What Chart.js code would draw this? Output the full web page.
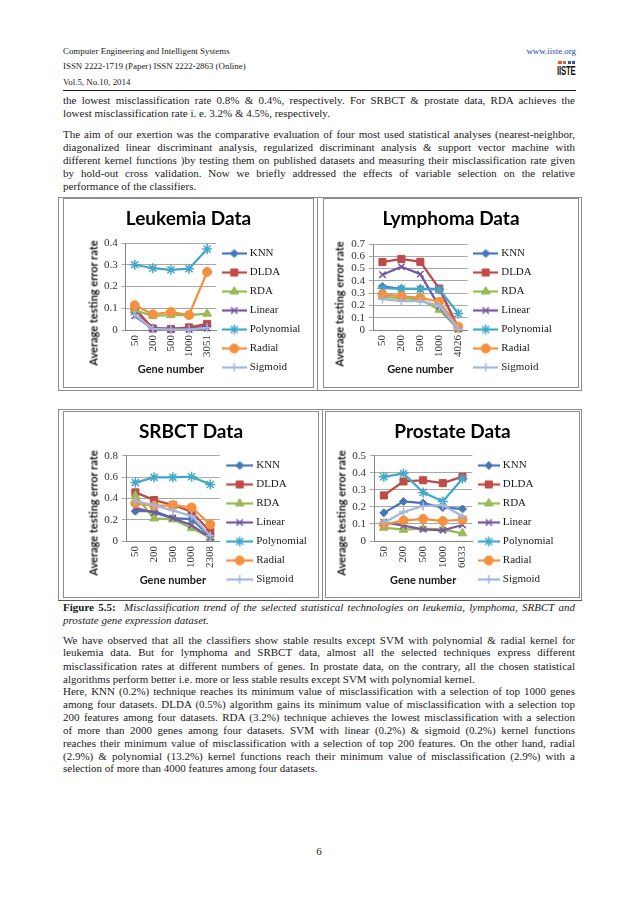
<!DOCTYPE html>
<html>
<head>
<meta charset="utf-8">
<title>Figure 5.5</title>
<script src="https://cdn.jsdelivr.net/npm/chart.js@4.4.1/dist/chart.umd.min.js"></script>
<style>
  html, body { margin:0; padding:0; background:#fff; }
  body { position:relative; width:638px; height:903px; overflow:hidden; font-family:"Liberation Serif","Times New Roman",serif; color:#1a1a1a; }
  .hd { position:absolute; left:63px; font-size:8.9px; line-height:10px; white-space:nowrap; }
  .ln { position:absolute; left:63px; width:512px; font-size:11px; line-height:13px; white-space:nowrap; }
  .box { position:absolute; border:1px solid #8e8e8e; background:#fff; }
  .box canvas { position:absolute; left:0; top:0; }
  .rule { position:absolute; background:#8c8c8c; }
  .ytitle { position:absolute; font-family:Lato, sans-serif; font-weight:bold; font-size:11px; line-height:13px; white-space:nowrap; color:#1a1a1a; transform:translate(-50%,-50%) rotate(-90deg); }
  a { color:#1d3fae; }
</style>
</head>
<body>
<div class="hd" style="top:45.7px">Computer Engineering and Intelligent Systems</div>
<div class="hd" style="top:60.5px">ISSN 2222-1719 (Paper) ISSN 2222-2863 (Online)</div>
<div class="hd" style="top:77px">Vol.5, No.10, 2014</div>
<div class="hd" style="left:auto;right:62px;top:45.7px"><a>www.iiste.org</a></div>
<div style="position:absolute;left:558px;top:61px;width:18px;height:3px;">
  <div style="position:absolute;left:0;top:0;width:4px;height:3px;background:#d9632a"></div>
  <div style="position:absolute;left:5px;top:0;width:3px;height:3px;background:#d9632a"></div>
  <div style="position:absolute;left:10px;top:0;width:3px;height:3px;background:#2d5aa0"></div>
  <div style="position:absolute;left:14px;top:0;width:3px;height:3px;background:#2d5aa0"></div>
</div>
<div style="position:absolute;left:557px;top:64px;font-family:'Liberation Sans',sans-serif;font-weight:bold;font-size:13px;line-height:13px;transform:scaleX(0.6);transform-origin:left top;letter-spacing:-0.3px;color:#111">IISTE</div>
<div class="rule" style="left:63px;top:90px;width:513px;height:1.3px;background:#222"></div>

<div class="ln j" style="top:93.5px">the lowest misclassification rate 0.8% &amp; 0.4%, respectively. For SRBCT &amp; prostate data, RDA achieves the</div>
<div class="ln" style="top:106.8px">lowest misclassification rate i. e. 3.2% &amp; 4.5%, respectively.</div>

<div class="ln j" style="top:127.8px">The aim of our exertion was the comparative evaluation of four most used statistical analyses (nearest-neighbor,</div>
<div class="ln j" style="top:141.2px">diagonalized linear discriminant analysis, regularized discriminant analysis &amp; support vector machine with</div>
<div class="ln j" style="top:154.2px">different kernel functions )by testing them on published datasets and measuring their misclassification rate given</div>
<div class="ln j" style="top:166.8px">by hold-out cross validation. Now we briefly addressed the effects of variable selection on the relative</div>
<div class="ln" style="top:180.2px">performance of the classifiers.</div>

<!-- figure table frames -->
<div class="rule" style="left:58px;top:197px;width:524px;height:1px"></div>
<div class="rule" style="left:58px;top:390px;width:524px;height:1px"></div>
<div class="rule" style="left:58px;top:197px;width:1px;height:194px"></div>
<div class="rule" style="left:581px;top:197px;width:1px;height:194px"></div>
<div class="rule" style="left:317px;top:197px;width:1px;height:194px"></div>
<div class="rule" style="left:58px;top:409px;width:524px;height:1px"></div>
<div class="rule" style="left:58px;top:599.5px;width:524px;height:1.3px;background:#555"></div>
<div class="rule" style="left:58px;top:409px;width:1px;height:191px"></div>
<div class="rule" style="left:581px;top:409px;width:1px;height:191px"></div>
<div class="rule" style="left:322px;top:409px;width:1px;height:191px"></div>

<div class="ln j" style="top:600.8px"><b>Figure 5.5:</b>&nbsp; <i>Misclassification trend of the selected statistical technologies on leukemia, lymphoma, SRBCT and</i></div>
<div class="ln" style="top:614.2px"><i>prostate gene expression dataset.</i></div>

<div class="ln j" style="top:633.5px">We have observed that all the classifiers show stable results except SVM with polynomial &amp; radial kernel for</div>
<div class="ln j" style="top:646.2px">leukemia data. But for lymphoma and SRBCT data, almost all the selected techniques express different</div>
<div class="ln j" style="top:659.5px">misclassification rates at different numbers of genes. In prostate data, on the contrary, all the chosen statistical</div>
<div class="ln" style="top:672.5px">algorithms perform better i.e. more or less stable results except SVM with polynomial kernel.</div>
<div class="ln j" style="top:684.5px">Here, KNN (0.2%) technique reaches its minimum value of misclassification with a selection of top 1000 genes</div>
<div class="ln j" style="top:697.5px">among four datasets. DLDA (0.5%) algorithm gains its minimum value of misclassification with a selection top</div>
<div class="ln j" style="top:710.8px">200 features among four datasets. RDA (3.2%) technique achieves the lowest misclassification with a selection</div>
<div class="ln j" style="top:723.5px">of more than 2000 genes among four datasets. SVM with linear (0.2%) &amp; sigmoid (0.2%) kernel functions</div>
<div class="ln j" style="top:736.8px">reaches their minimum value of misclassification with a selection of top 200 features. On the other hand, radial</div>
<div class="ln j" style="top:749.5px">(2.9%) &amp; polynomial (13.2%) kernel functions reach their minimum value of misclassification (2.9%) with a</div>
<div class="ln" style="top:762.2px">selection of more than 4000 features among four datasets.</div>

<div class="ln" style="top:844.5px;text-align:center;">6</div>

<script>
// ---------------- DATA ----------------
const seriesNames = ['KNN', 'DLDA', 'RDA', 'Linear', 'Polynomial', 'Radial', 'Sigmoid'];

// Leukemia
const leukemiaGenes      = ['50', '200', '500', '1000', '3051'];
const leukemiaKNN        = [0.090, 0.010, 0.005, 0.010, 0.020];
const leukemiaDLDA       = [0.100, 0.007, 0.005, 0.012, 0.028];
const leukemiaRDA        = [0.090, 0.065, 0.068, 0.068, 0.075];
const leukemiaLinear     = [0.065, 0.004, 0.002, 0.002, 0.008];
const leukemiaPolynomial = [0.300, 0.284, 0.277, 0.282, 0.372];
const leukemiaRadial     = [0.114, 0.072, 0.083, 0.069, 0.267];
const leukemiaSigmoid    = [0.070, 0.005, 0.002, 0.002, 0.010];
const leukemiaYTicks     = [0, 0.1, 0.2, 0.3, 0.4];

// Lymphoma
const lymphomaGenes      = ['50', '200', '500', '1000', '4026'];
const lymphomaKNN        = [0.355, 0.335, 0.335, 0.335, 0.010];
const lymphomaDLDA       = [0.553, 0.578, 0.555, 0.337, 0.020];
const lymphomaRDA        = [0.270, 0.260, 0.250, 0.165, 0.010];
const lymphomaLinear     = [0.450, 0.515, 0.455, 0.190, 0.005];
const lymphomaPolynomial = [0.340, 0.335, 0.333, 0.330, 0.135];
const lymphomaRadial     = [0.290, 0.275, 0.262, 0.230, 0.027];
const lymphomaSigmoid    = [0.252, 0.235, 0.235, 0.200, 0.010];
const lymphomaYTicks     = [0, 0.1, 0.2, 0.3, 0.4, 0.5, 0.6, 0.7];

// SRBCT
const srbctGenes      = ['50', '200', '500', '1000', '2308'];
const srbctKNN        = [0.280, 0.280, 0.215, 0.205, 0.042];
const srbctDLDA       = [0.456, 0.384, 0.338, 0.275, 0.086];
const srbctRDA        = [0.425, 0.212, 0.203, 0.120, 0.032];
const srbctLinear     = [0.310, 0.265, 0.215, 0.148, 0.030];
const srbctPolynomial = [0.548, 0.597, 0.597, 0.603, 0.530];
const srbctRadial     = [0.355, 0.330, 0.335, 0.315, 0.155];
const srbctSigmoid    = [0.375, 0.335, 0.285, 0.235, 0.050];
const srbctYTicks     = [0, 0.2, 0.4, 0.6, 0.8];

// Prostate
const prostateGenes      = ['50', '200', '500', '1000', '6033'];
const prostateKNN        = [0.165, 0.232, 0.222, 0.196, 0.188];
const prostateDLDA       = [0.267, 0.349, 0.356, 0.339, 0.377];
const prostateRDA        = [0.078, 0.066, 0.072, 0.068, 0.045];
const prostateLinear     = [0.110, 0.090, 0.068, 0.063, 0.094];
const prostatePolynomial = [0.376, 0.396, 0.285, 0.232, 0.365];
const prostateRadial     = [0.098, 0.120, 0.130, 0.117, 0.125];
const prostateSigmoid    = [0.107, 0.170, 0.205, 0.210, 0.145];
const prostateYTicks     = [0, 0.1, 0.2, 0.3, 0.4, 0.5];

// ---------------- STYLE ----------------
const COLORS = ['#4676B4', '#BE4B48', '#98B954', '#7459A0', '#43A8C6', '#F4913F', '#A3B6DE'];
const MARK = [
  {style: 'rectRot',  r: 4,   bw: 1},
  {style: 'rect',     r: 5,   bw: 1},
  {style: 'triangle', r: 5,   bw: 1},
  {style: 'crossRot', r: 4.5, bw: 1.5},
  {style: 'star',     r: 5,   bw: 1.5},
  {style: 'circle',   r: 4.5, bw: 1},
  {style: 'cross',    r: 4.5, bw: 1.5}
];
const TITLE_FONT = {family: 'Lato', size: 19, weight: 'bold', lineHeight: 1.2};
const AX_FONT    = {family: 'Lato', size: 11, weight: 'bold', lineHeight: 1.2};
const TICK_FONT  = {family: 'Liberation Serif', size: 11, lineHeight: 1.2};
const LEG_FONT   = {family: 'Liberation Serif', size: 11, lineHeight: 1.2};
const GRID_C = '#a8a8a8', AXIS_C = '#868686', TICK_C = '#333333', TEXT_C = '#1a1a1a';

// justify single lines to the text block width
document.querySelectorAll('.j').forEach(el => {
  const s = document.createElement('span');
  while (el.firstChild) s.appendChild(el.firstChild);
  el.appendChild(s);
  const w = s.getBoundingClientRect().width;
  const n = (el.textContent.match(/[ \u00a0]/g) || []).length;
  if (n) el.style.wordSpacing = ((512 - w) / n) + 'px';
});

function makeIcon(i, Wi) {
  const c = document.createElement('canvas');
  c.width = Wi; c.height = 12;
  const g = c.getContext('2d');
  const L = Math.min(27, Wi);
  g.strokeStyle = COLORS[i]; g.lineWidth = 2.25;
  g.beginPath(); g.moveTo(Wi - L, 6); g.lineTo(Wi, 6); g.stroke();
  g.fillStyle = COLORS[i]; g.strokeStyle = COLORS[i]; g.lineWidth = MARK[i].bw;
  if (Chart.helpers && Chart.helpers.drawPoint) {
    Chart.helpers.drawPoint(g, {pointStyle: MARK[i].style, radius: MARK[i].r, rotation: 0, borderWidth: MARK[i].bw}, Wi - L / 2, 6);
  }
  return c;
}

// let the right-hand legend and the title use the whole canvas width when drawing
function widenBoxes(chart) {
  const W = chart.width;
  if (chart.legend) { chart.legend.right = W; chart.legend.width = W - chart.legend.left; }
  if (chart.titleBlock) { chart.titleBlock.left = 0; chart.titleBlock.right = W; chart.titleBlock.width = W; }
}
const boxRoom = { id: 'boxRoom', afterLayout: widenBoxes, beforeDraw: widenBoxes };

function build(spec) {
  const {box, plot} = spec;
  const cx = box.x + 1, cy = box.y + 1, W = box.w - 2, H = box.h - 2;
  const wrap = document.createElement('div');
  wrap.className = 'box';
  wrap.style.cssText = `left:${box.x}px;top:${box.y}px;width:${W}px;height:${H}px;`;
  const cv = document.createElement('canvas');
  cv.width = W; cv.height = H;
  cv.style.width = W + 'px'; cv.style.height = H + 'px';
  wrap.appendChild(cv);
  document.body.appendChild(wrap);

  const yt = document.createElement('div');
  yt.className = 'ytitle';
  yt.textContent = 'Average testing error rate';
  yt.style.left = spec.yTitleX + 'px';
  yt.style.top = spec.yTitleCY + 'px';
  document.body.appendChild(yt);

  const titleLH = TITLE_FONT.size * TITLE_FONT.lineHeight;
  const axLH = AX_FONT.size * AX_FONT.lineHeight;
  const tTop = (spec.titleY - cy) - titleLH / 2;
  const tBot = (plot.t - cy) - tTop - titleLH;
  const FS = LEG_FONT.size, SP = 19, LP = SP - FS;
  const pb = Math.round(H - SP + FS / 2 - (spec.legendLastY - cy));
  const Hx = H - pb - (plot.b - cy);
  const xtpb = (H - pb) - (spec.xTitleY - cy) - axLH / 2;
  const Wy = plot.l - cx;
  const LW = 30;
  const padRight = W - LW - (plot.r - cx);
  const Wi = Math.round(spec.legendTextX - plot.r - LP - FS / 2 - 3);
  const bw = Wi - 5;
  const icons = seriesNames.map((n, i) => makeIcon(i, Wi));

  const ticks = spec.yTicks;
  new Chart(cv, {
    type: 'line',
    data: {
      labels: spec.genes,
      datasets: seriesNames.map((n, i) => ({
        label: n,
        data: spec.series[i],
        borderColor: COLORS[i],
        backgroundColor: COLORS[i],
        borderWidth: 2.25,
        pointStyle: MARK[i].style,
        pointRadius: MARK[i].r,
        pointBorderWidth: MARK[i].bw,
        pointBackgroundColor: COLORS[i],
        pointBorderColor: COLORS[i],
        tension: 0,
        fill: false,
        clip: false,
        order: seriesNames.length - 1 - i
      }))
    },
    plugins: [boxRoom],
    options: {
      responsive: false,
      animation: false,
      devicePixelRatio: 1,
      layout: {padding: {left: 0, top: 0, right: padRight, bottom: pb}},
      scales: {
        x: {
          type: 'category',
          offset: true,
          grid: {display: false, drawTicks: false, tickLength: 0},
          border: {display: true, color: AXIS_C, width: 1},
          ticks: {minRotation: 90, maxRotation: 90, autoSkip: false, padding: 5, color: TICK_C, font: TICK_FONT},
          title: {display: true, text: 'Gene number', color: TEXT_C, font: AX_FONT, padding: {top: 0, bottom: xtpb}},
          afterFit(s) { s.height = Hx; }
        },
        y: {
          min: ticks[0],
          max: ticks[ticks.length - 1],
          ticks: {stepSize: ticks[1] - ticks[0], autoSkip: false, padding: 4, color: TICK_C, font: TICK_FONT},
          grid: {color: GRID_C, lineWidth: 1, drawTicks: true, tickLength: 4},
          border: {display: true, color: AXIS_C, width: 1},
          title: {display: false},
          afterFit(s) { s.width = Wy; }
        }
      },
      plugins: {
        title: {display: true, text: spec.title, color: '#000', font: TITLE_FONT, padding: {top: tTop, bottom: tBot}},
        legend: {
          position: 'right',
          align: 'end',
          maxWidth: LW,
          labels: {
            usePointStyle: true,
            pointStyleWidth: bw,
            boxHeight: FS,
            padding: LP,
            color: TEXT_C,
            font: LEG_FONT,
            sort: (a, b) => a.datasetIndex - b.datasetIndex,
            generateLabels(chart) {
              const items = Chart.defaults.plugins.legend.labels.generateLabels(chart);
              items.forEach(it => { it.pointStyle = icons[it.datasetIndex]; });
              return items;
            }
          }
        },
        tooltip: {enabled: false}
      }
    }
  });
}

const charts = [
  {title: 'Leukemia Data', genes: leukemiaGenes, yTicks: leukemiaYTicks,
   series: [leukemiaKNN, leukemiaDLDA, leukemiaRDA, leukemiaLinear, leukemiaPolynomial, leukemiaRadial, leukemiaSigmoid],
   box: {x: 63, y: 198, w: 251, h: 190}, plot: {l: 125.7, r: 216.2, t: 243, b: 330},
   titleY: 219, yTitleX: 93, yTitleCY: 302.5, xTitleY: 369, legendLastY: 368, legendTextX: 258},
  {title: 'Lymphoma Data', genes: lymphomaGenes, yTicks: lymphomaYTicks,
   series: [lymphomaKNN, lymphomaDLDA, lymphomaRDA, lymphomaLinear, lymphomaPolynomial, lymphomaRadial, lymphomaSigmoid],
   box: {x: 323, y: 198, w: 256, h: 190}, plot: {l: 373, r: 467.7, t: 244, b: 330},
   titleY: 219, yTitleX: 339, yTitleCY: 304, xTitleY: 369, legendLastY: 368, legendTextX: 509},
  {title: 'SRBCT Data', genes: srbctGenes, yTicks: srbctYTicks,
   series: [srbctKNN, srbctDLDA, srbctRDA, srbctLinear, srbctPolynomial, srbctRadial, srbctSigmoid],
   box: {x: 63, y: 411, w: 256, h: 187}, plot: {l: 126, r: 219.7, t: 455.7, b: 541},
   titleY: 431.7, yTitleX: 93.3, yTitleCY: 512.5, xTitleY: 580, legendLastY: 579.3, legendTextX: 264},
  {title: 'Prostate Data', genes: prostateGenes, yTicks: prostateYTicks,
   series: [prostateKNN, prostateDLDA, prostateRDA, prostateLinear, prostatePolynomial, prostateRadial, prostateSigmoid],
   box: {x: 325, y: 411, w: 255, h: 187}, plot: {l: 374, r: 472.3, t: 455.7, b: 541},
   titleY: 431.7, yTitleX: 341.3, yTitleCY: 513, xTitleY: 580, legendLastY: 579.3, legendTextX: 511}
];
charts.forEach(build);
</script>
</body>
</html>
